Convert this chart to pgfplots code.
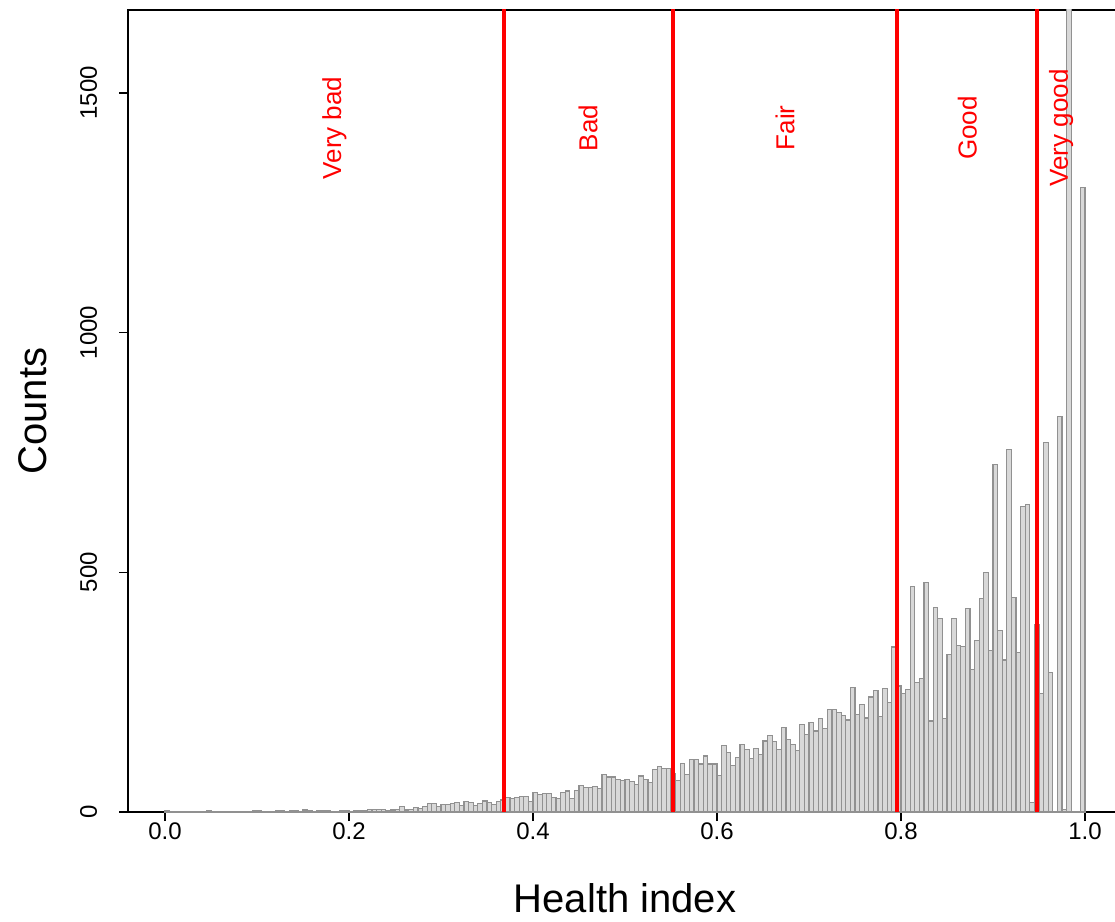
\documentclass[border=0pt]{standalone}
\usepackage{pgfplots}
\pgfplotsset{compat=1.18}
\usepackage{pgfplotstable}
\usepackage{fontspec}
\setmainfont{Liberation Sans}

% histogram of the health index, bins of width 0.005 (left edge, count)
\pgfplotstableread{
x count
0.000 2
0.005 0
0.010 0
0.015 0
0.020 0
0.025 0
0.030 1
0.035 0
0.040 0
0.045 2
0.050 1
0.055 0
0.060 0
0.065 1
0.070 1
0.075 0
0.080 0
0.085 0
0.090 0
0.095 2
0.100 2
0.105 1
0.110 0
0.115 0
0.120 3
0.125 2
0.130 1
0.135 3
0.140 3
0.145 1
0.150 4
0.155 3
0.160 1
0.165 3
0.170 3
0.175 2
0.180 1
0.185 1
0.190 2
0.195 2
0.200 1
0.205 3
0.210 2
0.215 3
0.220 6
0.225 5
0.230 5
0.235 5
0.240 2
0.245 4
0.250 5
0.255 11
0.260 4
0.265 6
0.270 9
0.275 8
0.280 12
0.285 17
0.290 17
0.295 12
0.300 15
0.305 15
0.310 18
0.315 19
0.320 13
0.325 22
0.330 19
0.335 14
0.340 18
0.345 23
0.350 19
0.355 15
0.360 22
0.365 25
0.370 31
0.375 29
0.380 31
0.385 33
0.390 33
0.395 22
0.400 40
0.405 36
0.410 38
0.415 38
0.420 31
0.425 29
0.430 40
0.435 44
0.440 29
0.445 45
0.450 55
0.455 51
0.460 51
0.465 53
0.470 49
0.475 78
0.480 73
0.485 73
0.490 68
0.495 65
0.500 67
0.505 63
0.510 58
0.515 75
0.520 67
0.525 62
0.530 89
0.535 95
0.540 91
0.545 91
0.550 80
0.555 66
0.560 101
0.565 79
0.570 109
0.575 110
0.580 100
0.585 117
0.590 100
0.595 100
0.600 76
0.605 138
0.610 124
0.615 97
0.620 114
0.625 140
0.630 130
0.635 111
0.640 133
0.645 120
0.650 148
0.655 159
0.660 147
0.665 131
0.670 177
0.675 151
0.680 141
0.685 128
0.690 182
0.695 161
0.700 186
0.705 169
0.710 195
0.715 174
0.720 213
0.725 214
0.730 207
0.735 202
0.740 192
0.745 259
0.750 204
0.755 224
0.760 196
0.765 240
0.770 253
0.775 200
0.780 257
0.785 229
0.790 344
0.795 263
0.800 248
0.805 256
0.810 470
0.815 270
0.820 279
0.825 479
0.830 190
0.835 426
0.840 403
0.845 195
0.850 328
0.855 404
0.860 347
0.865 345
0.870 424
0.875 298
0.880 357
0.885 446
0.890 499
0.895 337
0.900 725
0.905 379
0.910 317
0.915 757
0.920 448
0.925 333
0.930 638
0.935 642
0.940 20
0.945 390
0.950 248
0.955 770
0.960 291
0.965 0
0.970 825
0.975 5
0.980 1800
0.985 0
0.990 0
0.995 1302
1.000 0
}\histdata

\definecolor{barfill}{RGB}{216,216,216}
\definecolor{barline}{RGB}{145,145,145}

\begin{document}
\begin{tikzpicture}
\begin{axis}[
  scale only axis,
  width=496.8pt,
  height=401pt,
  xmin=-0.04, xmax=1.04,
  ymin=0, ymax=1673,
  axis line style={line width=0.8pt},
  tick style={black, line width=0.8pt},
  tick align=outside,
  major tick length=4.5pt,
  xtick pos=bottom,
  ytick pos=left,
  xtick={0,0.2,0.4,0.6,0.8,1},
  xticklabels={0.0,0.2,0.4,0.6,0.8,1.0},
  ytick={0,500,1000,1500},
  yticklabels={0,500,1000,1500},
  ticklabel style={font=\fontsize{12}{14}\selectfont},
  xticklabel shift=-2.5pt,
  yticklabel style={rotate=90, anchor=south},
  yticklabel shift=7.5pt,
  xlabel={Health index},
  ylabel={Counts},
  label style={font=\fontsize{20}{24}\selectfont},
  xlabel style={at={(axis description cs:0.5,0)}, anchor=base, yshift=-50pt},
  ylabel style={at={(axis description cs:-0.0745,0.5)}, anchor=south},
]
\addplot[ybar interval, fill=barfill, draw=barline, line width=0.6pt] table[x=x, y=count] {\histdata};

\addplot[red, line width=2pt] coordinates {(0.368,0) (0.368,1700)};
\addplot[red, line width=2pt] coordinates {(0.5525,0) (0.5525,1700)};
\addplot[red, line width=2pt] coordinates {(0.7957,0) (0.7957,1700)};
\addplot[red, line width=2pt] coordinates {(0.9478,0) (0.9478,1700)};

\node[rotate=90, text=red, font=\fontsize{13}{15}\selectfont] at (axis cs:0.184,1427) {Very bad};
\node[rotate=90, text=red, font=\fontsize{13}{15}\selectfont] at (axis cs:0.460,1427) {Bad};
\node[rotate=90, text=red, font=\fontsize{13}{15}\selectfont] at (axis cs:0.674,1427) {Fair};
\node[rotate=90, text=red, font=\fontsize{13}{15}\selectfont] at (axis cs:0.872,1427) {Good};
\node[rotate=90, text=red, font=\fontsize{13}{15}\selectfont] at (axis cs:0.974,1427) {Very good};
\end{axis}
\pgfresetboundingbox
\path ([xshift=-64.1pt,yshift=-55pt]current axis.south west) rectangle ([xshift=-3.4pt,yshift=5pt]current axis.north east);
\end{tikzpicture}
\end{document}
